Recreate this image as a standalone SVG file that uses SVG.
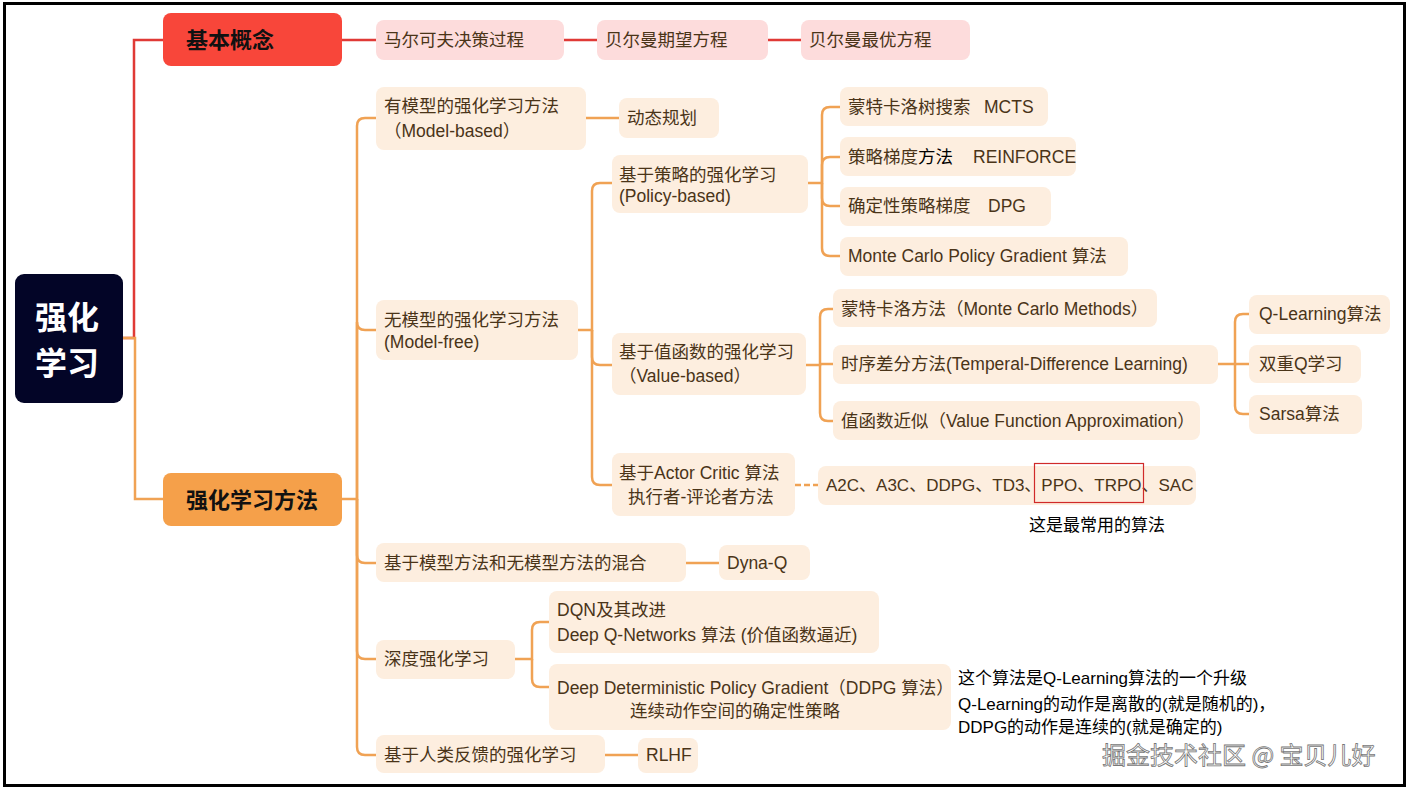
<svg xmlns="http://www.w3.org/2000/svg" width="1409" height="788" viewBox="0 0 1409 788">
<style>
.t{font-family:"Liberation Sans","Noto Sans CJK SC",sans-serif;font-size:17.5px;fill:#4a3418}
.k{font-family:"Liberation Sans","Noto Sans CJK SC",sans-serif;font-size:17px;fill:#000}
.b{font-family:"Noto Sans CJK SC","Liberation Sans",sans-serif;font-weight:bold;font-size:22px;fill:#111}
.n{fill:#fdeedf}
.p{fill:#fddcdc}
.c{fill:none;stroke:#f0a254;stroke-width:2.5}
.r{fill:none;stroke:#e03a36;stroke-width:2.5}
</style>
<rect x="0" y="0" width="1409" height="788" fill="#fff"/>
<rect x="4.5" y="3.5" width="1400" height="782" fill="none" stroke="#000" stroke-width="3"/>
<g id="connectors">
<path class="r" d="M123 338 H134 V40 H163"/>
<path class="c" d="M123 338 H135 V499 H163"/>
<path class="r" d="M342 40 H376"/>
<path class="r" d="M564 40 H597"/>
<path class="r" d="M768 40 H801"/>
<path class="c" d="M342 499 H357 V126 Q357 118 365 118 H376"/>
<path class="c" d="M357 499 V322 Q357 330 365 330 H376"/>
<path class="c" d="M357 499 V555 Q357 563 365 563 H376"/>
<path class="c" d="M357 499 V651 Q357 659 365 659 H376"/>
<path class="c" d="M357 499 V747 Q357 755 365 755 H376"/>
<path class="c" d="M586 118 H619"/>
<path class="c" d="M686 563 H719"/>
<path class="c" d="M605 755 H638"/>
<path class="c" d="M578 330 H592 V191 Q592 183 600 183 H612"/>
<path class="c" d="M592 330 V357 Q592 365 600 365 H612"/>
<path class="c" d="M592 330 V477 Q592 485 600 485 H612"/>
<path class="c" d="M808 183 H822 V115 Q822 107 830 107 H840"/>
<path class="c" d="M822 183 V165 Q822 157 830 157 H840"/>
<path class="c" d="M822 183 V198 Q822 206 830 206 H840"/>
<path class="c" d="M822 183 V248 Q822 256 830 256 H840"/>
<path class="c" d="M806 365 H820 V317 Q820 309 828 309 H833"/>
<path class="c" d="M820 364 H833"/>
<path class="c" d="M820 365 V413 Q820 421 828 421 H833"/>
<path class="c" d="M1218 364 H1235 V322 Q1235 314 1243 314 H1249"/>
<path class="c" d="M1235 364 H1249"/>
<path class="c" d="M1235 364 V406 Q1235 414 1243 414 H1249"/>
<path class="c" d="M515 659 H532 V630 Q532 622 540 622 H549"/>
<path class="c" d="M532 659 V679 Q532 687 540 687 H549"/>
<path class="c" d="M795 485 H818" stroke-dasharray="6 3"/>
</g>
<g id="root"><rect x="15" y="274" width="108" height="129" rx="9" fill="#030527"/>
<text x="67" y="329" text-anchor="middle" font-family="Noto Sans CJK SC,sans-serif" font-weight="bold" font-size="32" fill="#fff">强化</text>
<text x="67" y="375" text-anchor="middle" font-family="Noto Sans CJK SC,sans-serif" font-weight="bold" font-size="32" fill="#fff">学习</text></g>
<g id="basic"><rect x="163" y="13" width="179" height="53" rx="8" fill="#f8463a"/><text class="b" x="186" y="48">基本概念</text></g>
<g id="methods"><rect x="163" y="473" width="179" height="53" rx="8" fill="#f5a04a"/><text class="b" x="186" y="508">强化学习方法</text></g>
<g id="mdp"><rect class="p" x="376" y="20" width="188" height="40" rx="8"/><text class="t" x="384" y="46">马尔可夫决策过程</text></g>
<g id="bellman-exp"><rect class="p" x="597" y="20" width="171" height="40" rx="8"/><text class="t" x="605" y="46">贝尔曼期望方程</text></g>
<g id="bellman-opt"><rect class="p" x="801" y="20" width="169" height="40" rx="8"/><text class="t" x="809" y="46">贝尔曼最优方程</text></g>
<g id="model-based"><rect class="n" x="376" y="87" width="210" height="63" rx="8"/><text class="t" x="384" y="112">有模型的强化学习方法</text><text class="t" x="384" y="137">（Model-based）</text></g>
<g id="dp"><rect class="n" x="619" y="98" width="100" height="40" rx="8"/><text class="t" x="627" y="124">动态规划</text></g>
<g id="model-free"><rect class="n" x="376" y="300" width="202" height="60" rx="8"/><text class="t" x="384" y="326">无模型的强化学习方法</text><text class="t" x="384" y="348">(Model-free)</text></g>
<g id="policy"><rect class="n" x="612" y="155" width="196" height="58" rx="8"/><text class="t" x="619" y="181">基于策略的强化学习</text><text class="t" x="619" y="202">(Policy-based)</text></g>
<g id="value"><rect class="n" x="612" y="333" width="194" height="62" rx="8"/><text class="t" x="619" y="358">基于值函数的强化学习</text><text class="t" x="619" y="382">（Value-based）</text></g>
<g id="actor"><rect class="n" x="612" y="453" width="183" height="63" rx="8"/><text class="t" x="619" y="479">基于Actor Critic 算法</text><text class="t" x="628" y="503">执行者-评论者方法</text></g>
<g id="mcts"><rect class="n" x="840" y="87" width="208" height="39" rx="8"/><text class="t" x="848" y="113">蒙特卡洛树搜索<tspan x="984">MCTS</tspan></text></g>
<g id="reinforce"><rect class="n" x="840" y="137" width="236" height="39" rx="8"/><text class="t" x="848" y="163">策略梯度<tspan fill="#000">方法</tspan><tspan x="973">REINFORCE</tspan></text></g>
<g id="dpg"><rect class="n" x="840" y="187" width="211" height="39" rx="8"/><text class="t" x="848" y="212">确定性策略梯度<tspan x="988">DPG</tspan></text></g>
<g id="mcpg"><rect class="n" x="840" y="237" width="288" height="39" rx="8"/><text class="t" x="848" y="262">Monte Carlo Policy Gradient 算法</text></g>
<g id="mc"><rect class="n" x="833" y="289" width="324" height="38" rx="8"/><text class="t" x="841" y="315">蒙特卡洛方法（Monte Carlo Methods）</text></g>
<g id="td"><rect class="n" x="833" y="345" width="385" height="39" rx="8"/><text class="t" x="841" y="370">时序差分方法(Temperal-Difference Learning)</text></g>
<g id="vfa"><rect class="n" x="833" y="401" width="367" height="39" rx="8"/><text class="t" x="841" y="427">值函数近似（Value Function Approximation）</text></g>
<g id="qlearning"><rect class="n" x="1249" y="295" width="141" height="39" rx="8"/><text class="t" x="1259" y="320">Q-Learning算法</text></g>
<g id="doubleq"><rect class="n" x="1249" y="345" width="112" height="38" rx="8"/><text class="t" x="1259" y="370">双重Q学习</text></g>
<g id="sarsa"><rect class="n" x="1249" y="395" width="113" height="39" rx="8"/><text class="t" x="1259" y="420">Sarsa算法</text></g>
<g id="ac-algos"><rect class="n" x="818" y="466" width="378" height="39" rx="8"/><text class="t" x="826" y="491" style="font-size:17px">A2C、A3C、DDPG、TD3、PPO、TRPO、SAC</text>
<rect x="1034.5" y="463.5" width="109" height="39" fill="none" stroke="#d02a2a" stroke-width="1.2"/>
<text class="k" x="1029" y="531">这是最常用的算法</text></g>
<g id="hybrid"><rect class="n" x="376" y="543" width="310" height="39" rx="8"/><text class="t" x="384" y="569">基于模型方法和无模型方法的混合</text></g>
<g id="dynaq"><rect class="n" x="719" y="545" width="91" height="35" rx="8"/><text class="t" x="727" y="569">Dyna-Q</text></g>
<g id="deep"><rect class="n" x="376" y="640" width="139" height="39" rx="8"/><text class="t" x="384" y="665">深度强化学习</text></g>
<g id="dqn"><rect class="n" x="549" y="591" width="330" height="62" rx="8"/><text class="t" x="557" y="616">DQN及其改进</text><text class="t" x="557" y="641">Deep Q-Networks 算法 (价值函数逼近)</text></g>
<g id="ddpg"><rect class="n" x="549" y="664" width="402" height="66" rx="8"/><text class="t" x="557" y="694">Deep Deterministic Policy Gradient（DDPG 算法）</text><text class="t" x="630" y="717">连续动作空间的确定性策略</text></g>
<g id="rlhf-src"><rect class="n" x="376" y="735" width="229" height="38" rx="8"/><text class="t" x="384" y="761">基于人类反馈的强化学习</text></g>
<g id="rlhf"><rect class="n" x="638" y="738" width="60" height="35" rx="8"/><text class="t" x="646" y="761">RLHF</text></g>
<g id="note"><text class="k" x="958" y="684">这个算法是Q-Learning算法的一个升级</text><text class="k" x="958" y="710">Q-Learning的动作是离散的(就是随机的)，</text><text class="k" x="958" y="733">DDPG的动作是连续的(就是确定的)</text></g>
<text x="1102" y="764" font-family="Noto Sans CJK SC,sans-serif" font-size="24" fill="#fff" stroke="#777" stroke-width="0.8">掘金技术社区 @ 宝贝儿好</text>
</svg>
